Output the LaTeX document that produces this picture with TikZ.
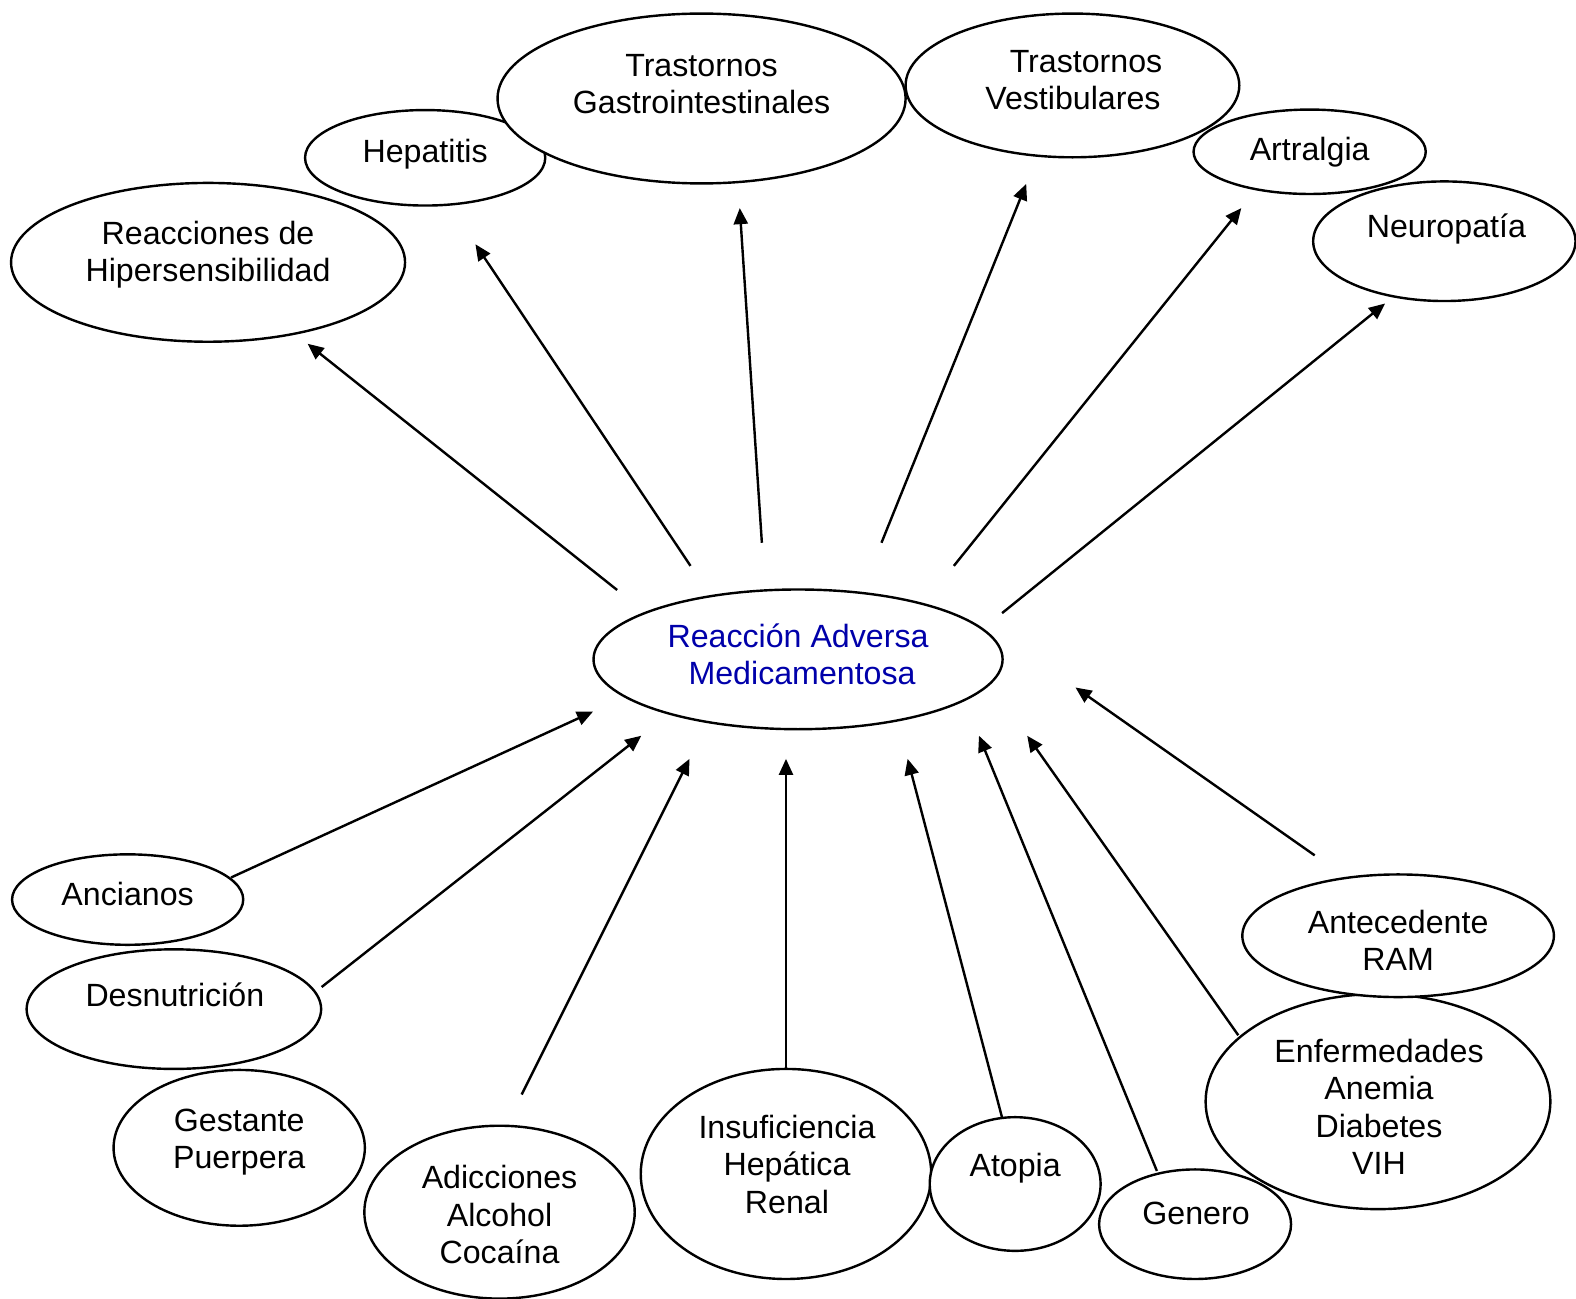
\documentclass[tikz,border=0pt]{standalone}
\usepackage{fontspec}
\setmainfont{Liberation Sans}
\usetikzlibrary{shapes.geometric,arrows.meta}
\definecolor{ramblue}{RGB}{0,0,170}
\tikzset{
  ell/.style 2 args={ellipse, draw, fill=white, line width=2.4pt, inner sep=0pt, minimum width=#1, minimum height=#2},
  lbl/.style={align=center, inner sep=0pt, font=\fontsize{32}{37}\selectfont},
  arr/.style={line width=2.4pt, -{Triangle[length=16pt,width=14pt]}}
}
\begin{document}
\begin{tikzpicture}[x=1pt,y=-1pt]
\useasboundingbox (0,0) rectangle (1568,1292);
% ellipses
\node[ell={392pt}{158pt}] (e1) at (207,261) {};
\node[ell={239pt}{95pt}] (e2) at (423,157) {};
\node[ell={406pt}{169pt}] (e3) at (698,98) {};
\node[ell={332pt}{143pt}] (e4) at (1067,85) {};
\node[ell={231pt}{84pt}] (e5) at (1303,151) {};
\node[ell={261pt}{119pt}] (e6) at (1437,240) {};
\node[ell={407pt}{139pt}] (c) at (794,656) {};
\node[ell={230pt}{90pt}] (b1) at (127,895) {};
\node[ell={293pt}{119pt}] (b2) at (173,1004) {};
\node[ell={250pt}{155pt}] (b3) at (238,1142) {};
\node[ell={269pt}{172pt}] (b4) at (497,1206) {};
\node[ell={289pt}{209pt}] (b5) at (782,1168) {};
\node[ell={170pt}{133pt}] (b6) at (1010,1178) {};
\node[ell={191pt}{109pt}] (b7) at (1189,1218) {};
\node[ell={343pt}{214pt}] (b8) at (1371,1096) {};
\node[ell={310pt}{122pt}] (b9) at (1391,931) {};
% labels
\node[lbl] (t1) at (207,254.5) {\strut Reacciones de\\\strut Hipersensibilidad};
\node[lbl] (t2) at (423,154) {\strut Hepatitis};
\node[lbl] (t3) at (698,87.5) {\strut Trastornos\\\strut Gastrointestinales};
\node[lbl] (t4) at (1067.5,83.5) {\hspace*{26pt}\strut Trastornos\\\strut Vestibulares};
\node[lbl] (t5) at (1303,152) {\strut Artralgia};
\node[lbl] (t6) at (1439,229) {\strut Neuropatía};
\node[lbl,text=ramblue] (tc) at (794,655.5) {\strut Reacción Adversa\\\hspace*{8pt}\strut Medicamentosa};
\node[lbl] (u1) at (127,893) {\strut Ancianos};
\node[lbl] (u2) at (174,994) {\strut Desnutrición};
\node[lbl] (u3) at (238,1136.5) {\strut Gestante\\\strut Puerpera};
\node[lbl] (u4) at (497,1212.5) {\strut Adicciones\\\strut Alcohol\\\strut Cocaína};
\node[lbl] (u5) at (783,1162.5) {\strut Insuficiencia\\\strut Hepática\\\strut Renal};
\node[lbl] (u6) at (1010,1163) {\strut Atopia};
\node[lbl] (u7) at (1190,1211) {\strut Genero};
\node[lbl] (u8) at (1372,1105.5) {\strut Enfermedades\\\strut Anemia\\\strut Diabetes\\\strut VIH};
\node[lbl] (u9) at (1391,939.5) {\strut Antecedente\\\strut RAM};
% arrow end points
\coordinate (p1s) at (614,587);  \coordinate (p1e) at (306,342);
\coordinate (p2s) at (687,563);  \coordinate (p2e) at (473,243);
\coordinate (p3s) at (758,540);  \coordinate (p3e) at (736,207);
\coordinate (p4s) at (877,540);  \coordinate (p4e) at (1021,183);
\coordinate (p5s) at (949,563);  \coordinate (p5e) at (1235,207);
\coordinate (p6s) at (997,610);  \coordinate (p6e) at (1378,302);
\coordinate (q1s) at (230,873);  \coordinate (q1e) at (590,708);
\coordinate (q2s) at (320,982);  \coordinate (q2e) at (638,732);
\coordinate (q3s) at (519,1089); \coordinate (q3e) at (686,755);
\coordinate (q4s) at (782,1063); \coordinate (q4e) at (782,755);
\coordinate (q5s) at (997,1112); \coordinate (q5e) at (903,755);
\coordinate (q6s) at (1151,1165);\coordinate (q6e) at (974,732);
\coordinate (q7s) at (1232,1030);\coordinate (q7e) at (1022,732);
\coordinate (q8s) at (1308,851); \coordinate (q8e) at (1070,684);
\foreach \n in {p1,p2,p3,p4,p5,p6,q1,q2,q3,q4,q5,q6,q7,q8}
  \draw[arr] (\n s) -- (\n e);
\end{tikzpicture}
\end{document}
